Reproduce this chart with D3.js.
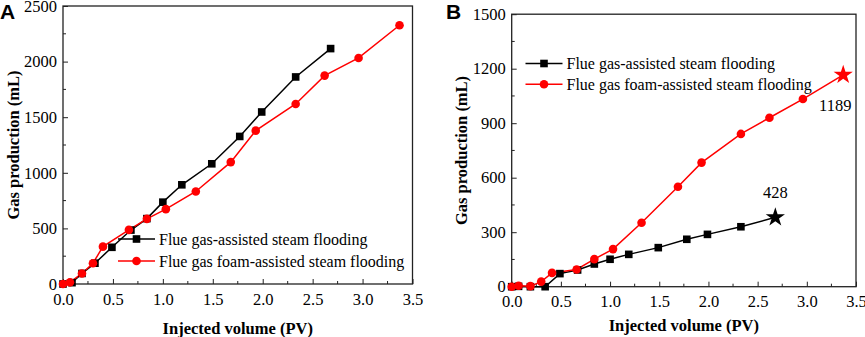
<!DOCTYPE html>
<html>
<head>
<meta charset="utf-8">
<script src="https://cdn.jsdelivr.net/npm/d3@7"></script>
<style>
body { margin: 0; background: #fff; }
text { font-family: "Liberation Serif", "Times New Roman", serif; }
</style>
</head>
<body>
<div id="screen"></div>
<script>
var width = 865;
var height = 337;

// data ------------------------------------------------------------
var seriesNames = ["Flue gas-assisted steam flooding", "Flue gas foam-assisted steam flooding"];

var aFlueX = [0, 0.09, 0.19, 0.32, 0.49, 0.68, 0.84, 1.0, 1.19, 1.49, 1.77, 1.99, 2.33, 2.68];
var aFlueY = [0, 12, 95, 187, 330, 485, 588, 736, 892, 1081, 1327, 1547, 1862, 2117];
var aFoamX = [0, 0.07, 0.19, 0.30, 0.40, 0.66, 0.84, 1.03, 1.33, 1.68, 1.93, 2.33, 2.62, 2.96, 3.37];
var aFoamY = [0, 15, 95, 187, 336, 487, 586, 673, 832, 1096, 1379, 1619, 1874, 2033, 2327];

var bFlueX = [0, 0.07, 0.19, 0.34, 0.49, 0.67, 0.84, 1.0, 1.19, 1.49, 1.78, 1.99, 2.33];
var bFlueY = [0, 2, 0, 0, 72, 92, 125, 151, 178, 215, 261, 288, 330];
var bFoamX = [0, 0.07, 0.19, 0.30, 0.41, 0.66, 0.84, 1.03, 1.32, 1.69, 1.93, 2.33, 2.62, 2.96];
var bFoamY = [0, 5, 3, 28, 76, 95, 152, 207, 352, 550, 683, 841, 930, 1033];

// end points marked with stars in panel B
var bFlueEnd = {x: 2.68, y: 382, label: "428"};
var bFoamEnd = {x: 3.37, y: 1166, label: "1189"};

var xTicks = [0, 0.5, 1.0, 1.5, 2.0, 2.5, 3.0, 3.5];
var aYTicks = [0, 500, 1000, 1500, 2000, 2500];
var bYTicks = [0, 300, 600, 900, 1200, 1500];

function zip(xs, ys) {
	return xs.map(function(x, i) { return {x: x, y: ys[i]}; });
}

var svg = d3.select("#screen")
	.append("svg")
	.attr("width", width)
	.attr("height", height);

var black = "#000000";
var red = "#ff0000";

function drawPanel(opt) {
	var g = svg.append("g");
	var x = d3.scaleLinear().domain([0, 3.5]).range([opt.left, opt.right]);
	var y = d3.scaleLinear().domain([0, opt.yMax]).range([opt.bottom, opt.top]);

	// frame
	g.append("rect")
		.attr("x", opt.left)
		.attr("y", opt.top)
		.attr("width", opt.right - opt.left)
		.attr("height", opt.bottom - opt.top)
		.attr("fill", "none")
		.attr("stroke", "#222")
		.attr("stroke-width", 1.3);

	// minor ticks
	var xMinor = d3.range(0.25, 3.5, 0.5);
	var yMinor = opt.yTicks.slice(0, -1).map(function(d) { return d + opt.yTicks[1] / 2; });

	var xAxis = d3.axisBottom(x).tickValues(xTicks).tickSize(-5).tickPadding(9)
		.tickFormat(d3.format(".1f"));
	var yAxis = d3.axisLeft(y).tickValues(opt.yTicks).tickSize(-5).tickPadding(6)
		.tickFormat(d3.format("d"));

	var gx = g.append("g").attr("transform", "translate(0," + opt.bottom + ")").call(xAxis);
	gx.append("g").selectAll("line").data(xMinor).enter().append("line")
		.attr("x1", function(d) { return x(d); }).attr("x2", function(d) { return x(d); })
		.attr("y1", 0).attr("y2", -3).attr("stroke", "#222");

	var gy = g.append("g").attr("transform", "translate(" + opt.left + ",0)").call(yAxis);
	gy.append("g").selectAll("line").data(yMinor).enter().append("line")
		.attr("y1", function(d) { return y(d); }).attr("y2", function(d) { return y(d); })
		.attr("x1", 0).attr("x2", 3).attr("stroke", "#222");

	[gx, gy].forEach(function(a) {
		a.select(".domain").remove();
		a.selectAll(".tick line").attr("stroke", "#222");
		a.selectAll("text")
			.attr("fill", "#000")
			.style("font-family", "'Liberation Serif', serif")
			.style("font-size", "16.5px");
	});

	// axis titles
	g.append("text")
		.attr("x", (opt.left + opt.right) / 2)
		.attr("y", opt.xTitleY)
		.attr("text-anchor", "middle")
		.style("font-weight", "bold")
		.style("font-size", "16.5px")
		.text("Injected volume (PV)");

	g.append("text")
		.attr("transform", "translate(" + opt.yTitleX + "," + ((opt.top + opt.bottom) / 2) + ") rotate(-90)")
		.attr("text-anchor", "middle")
		.style("font-weight", "bold")
		.style("font-size", "16.5px")
		.text("Gas production (mL)");

	// panel letter
	g.append("text")
		.attr("x", opt.letterX)
		.attr("y", 19)
		.style("font-family", "'Liberation Sans', Arial, sans-serif")
		.style("font-weight", "bold")
		.style("font-size", "21px")
		.text(opt.letter);

	var line = d3.line().x(function(d) { return x(d.x); }).y(function(d) { return y(d.y); });

	opt.series.forEach(function(s) {
		g.append("path")
			.datum(s.data)
			.attr("d", line)
			.attr("fill", "none")
			.attr("stroke", s.color)
			.attr("stroke-width", 1.5);
	});
	opt.series.forEach(function(s) {
		var pts = g.append("g").selectAll("*").data(s.data.slice(0, s.markerCount)).enter();
		if (s.shape == "square") {
			pts.append("rect")
				.attr("x", function(d) { return x(d.x) - 3.8; })
				.attr("y", function(d) { return y(d.y) - 3.8; })
				.attr("width", 7.6).attr("height", 7.6)
				.attr("fill", s.color);
		} else {
			pts.append("circle")
				.attr("cx", function(d) { return x(d.x); })
				.attr("cy", function(d) { return y(d.y); })
				.attr("r", 4.3)
				.attr("fill", s.color);
		}
	});

	// stars
	(opt.stars || []).forEach(function(st) {
		g.append("path")
			.attr("d", d3.symbol().type(d3.symbolStar).size(115)())
			.attr("transform", "translate(" + x(st.d.x) + "," + y(st.d.y) + ")")
			.attr("fill", st.color);
		g.append("text")
			.attr("x", x(st.d.x) + st.dx)
			.attr("y", y(st.d.y) + st.dy)
			.attr("text-anchor", "middle")
			.style("font-size", "16.5px")
			.text(st.d.label);
	});

	// legend
	opt.series.forEach(function(s, i) {
		var ly = opt.legendY + i * opt.legendGap;
		g.append("line")
			.attr("x1", opt.legendX).attr("x2", opt.legendX + 37)
			.attr("y1", ly).attr("y2", ly)
			.attr("stroke", s.color).attr("stroke-width", 1.5);
		if (s.shape == "square") {
			g.append("rect").attr("x", opt.legendX + 18.5 - 3.8).attr("y", ly - 3.8)
				.attr("width", 7.6).attr("height", 7.6).attr("fill", s.color);
		} else {
			g.append("circle").attr("cx", opt.legendX + 18.5).attr("cy", ly)
				.attr("r", 4.3).attr("fill", s.color);
		}
		g.append("text")
			.attr("x", opt.legendX + 41)
			.attr("y", ly + 5.5)
			.style("font-size", "16px")
			.text(seriesNames[i]);
	});
}

// panel A ---------------------------------------------------------
drawPanel({
	left: 63, right: 412.5, top: 6, bottom: 284,
	yMax: 2500, yTicks: aYTicks,
	xTitleY: 334, yTitleX: 19,
	letter: "A", letterX: 0,
	legendX: 118, legendY: 239, legendGap: 22,
	series: [
		{data: zip(aFlueX, aFlueY), color: black, shape: "square"},
		{data: zip(aFoamX, aFoamY), color: red, shape: "circle"}
	]
});

// panel B ---------------------------------------------------------
drawPanel({
	left: 511.7, right: 856, top: 14.2, bottom: 286.7,
	yMax: 1500, yTicks: bYTicks,
	xTitleY: 331, yTitleX: 467,
	letter: "B", letterX: 446,
	legendX: 525.5, legendY: 63.5, legendGap: 20.8,
	series: [
		{data: zip(bFlueX, bFlueY).concat([bFlueEnd]), markerCount: bFlueX.length, color: black, shape: "square"},
		{data: zip(bFoamX, bFoamY).concat([bFoamEnd]), markerCount: bFoamX.length, color: red, shape: "circle"}
	],
	stars: [
		{d: bFlueEnd, color: black, dx: 0, dy: -19},
		{d: bFoamEnd, color: red, dx: -8, dy: 36}
	]
});
</script>
</body>
</html>
